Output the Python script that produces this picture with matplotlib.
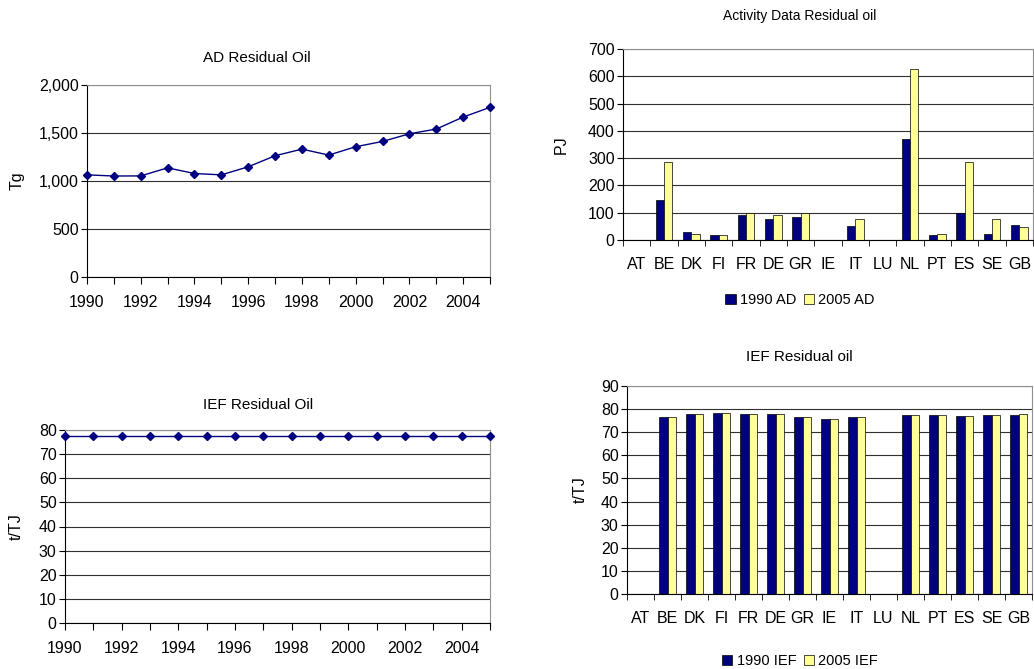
from matplotlib import pyplot as plt
from matplotlib.ticker import FuncFormatter
import numpy as np

plt.rcParams['font.family'] = ['Liberation Sans', 'DejaVu Sans']

# line chart data
years = [1990, 1991, 1992, 1993, 1994, 1995, 1996, 1997,
         1998, 1999, 2000, 2001, 2002, 2003, 2004, 2005]
ad_oil = [1064, 1052, 1053, 1137, 1078, 1064, 1148, 1263,
          1332, 1270, 1357, 1412, 1492, 1541, 1666, 1767]
ief_oil = [77.5, 77.5, 77.5, 77.5, 77.5, 77.5, 77.5, 77.5,
           77.5, 77.5, 77.5, 77.5, 77.5, 77.5, 77.5, 77.5]

# bar chart data
countries = ['AT', 'BE', 'DK', 'FI', 'FR', 'DE', 'GR', 'IE',
             'IT', 'LU', 'NL', 'PT', 'ES', 'SE', 'GB']
ad_1990 = [0, 147, 31, 17, 90, 78, 83, 0, 51, 0, 370, 17, 100, 22, 55]
ad_2005 = [0, 286, 22, 17, 100, 91, 100, 0, 78, 0, 627, 22, 287, 78, 47]
ief_1990 = [0, 76.5, 78.0, 78.5, 78.0, 78.0, 76.5, 75.8, 76.5, 0,
            77.5, 77.5, 77.0, 77.5, 77.5]
ief_2005 = [0, 76.5, 78.0, 78.5, 78.0, 78.0, 76.5, 75.8, 76.5, 0,
            77.5, 77.5, 77.0, 77.5, 78.0]

NAVY = '#000080'
YELLOW = '#FFFF99'
W, H = 1034, 669
TICK_FS = 11.5

fig = plt.figure(figsize=(10.34, 6.69), dpi=100)


def px_axes(l, r, t, b):
    return fig.add_axes([l / W, 1 - b / H, (r - l) / W, (b - t) / H])


def style_frame(ax):
    ax.spines['left'].set_color('black')
    ax.spines['bottom'].set_color('black')
    ax.spines['top'].set_color('#909090')
    ax.spines['right'].set_color('#909090')
    ax.yaxis.grid(True, color='#303030', linewidth=0.8)
    ax.set_axisbelow(True)
    ax.tick_params(axis='y', direction='out', length=4, labelsize=TICK_FS, pad=2)


def line_chart(ax, vals, ylim, step, ylabel, lx):
    style_frame(ax)
    ax.plot(years, vals, color=NAVY, marker='D', markersize=4.5,
            linewidth=1, clip_on=False, zorder=3)
    ax.set_xlim(years[0], years[-1])
    ax.set_ylim(*ylim)
    ax.set_yticks(np.arange(ylim[0], ylim[1] + step, step))
    ax.set_xticks(years)
    ax.set_xticklabels([str(y) if i % 2 == 0 else '' for i, y in enumerate(years)])
    ax.tick_params(axis='x', direction='out', length=5, labelsize=TICK_FS, pad=8)
    ax.set_ylabel(ylabel, fontsize=TICK_FS)
    ax.yaxis.set_label_coords(lx, 0.5)


def bar_chart(ax, v1, v2, ylim, step, ylabel, lx):
    style_frame(ax)
    x = np.arange(len(countries))
    bw = 0.3
    b1 = ax.bar(x - bw / 2, v1, bw, color=NAVY, edgecolor='black', linewidth=0.5)
    b2 = ax.bar(x + bw / 2, v2, bw, color=YELLOW, edgecolor='black', linewidth=0.5)
    ax.set_xlim(-0.5, len(countries) - 0.5)
    ax.set_ylim(*ylim)
    ax.set_yticks(np.arange(ylim[0], ylim[1] + step, step))
    ax.set_xticks(x)
    ax.set_xticklabels(countries)
    ax.set_xticks(np.arange(-0.5, len(countries), 1.0), minor=True)
    ax.tick_params(axis='x', which='major', length=0, labelsize=TICK_FS, pad=12)
    ax.tick_params(axis='x', which='minor', direction='out', length=4)
    ax.set_ylabel(ylabel, fontsize=TICK_FS)
    ax.yaxis.set_label_coords(lx, 0.5)
    return b1, b2


# top left
ax1 = px_axes(87, 490, 85, 277)
line_chart(ax1, ad_oil, (0, 2000), 500, 'Tg', -0.156)
ax1.yaxis.set_major_formatter(FuncFormatter(lambda v, p: '{:,.0f}'.format(v)))
fig.text(257 / W, 1 - 58 / H, 'AD Residual Oil', ha='center', va='center', fontsize=11)

# bottom left
ax3 = px_axes(65, 490, 430, 623)
line_chart(ax3, ief_oil, (0, 80), 10, 't/TJ', -0.096)
fig.text(258 / W, 1 - 405 / H, 'IEF Residual Oil', ha='center', va='center', fontsize=11)

# top right
ax2 = px_axes(623, 1033, 49, 240)
h1, h2 = bar_chart(ax2, ad_1990, ad_2005, (0, 700), 100, 'PJ', -0.132)
fig.text(800 / W, 1 - 16 / H, 'Activity Data Residual oil', ha='center', va='center', fontsize=10)
fig.legend([h1, h2], ['1990 AD', '2005 AD'], loc='center', ncol=2,
           bbox_to_anchor=(800 / W, 1 - 300 / H), frameon=False, fontsize=10.5,
           handlelength=0.7, handleheight=0.7, handletextpad=0.3, columnspacing=0.5)

# bottom right
ax4 = px_axes(627, 1032, 386, 594)
h3, h4 = bar_chart(ax4, ief_1990, ief_2005, (0, 90), 10, 't/TJ', -0.096)
fig.text(799 / W, 1 - 357 / H, 'IEF Residual oil', ha='center', va='center', fontsize=11)
fig.legend([h3, h4], ['1990 IEF', '2005 IEF'], loc='center', ncol=2,
           bbox_to_anchor=(800 / W, 1 - 661 / H), frameon=False, fontsize=10.5,
           handlelength=0.7, handleheight=0.7, handletextpad=0.3, columnspacing=0.5)

fig.savefig('out.png', dpi=100)
